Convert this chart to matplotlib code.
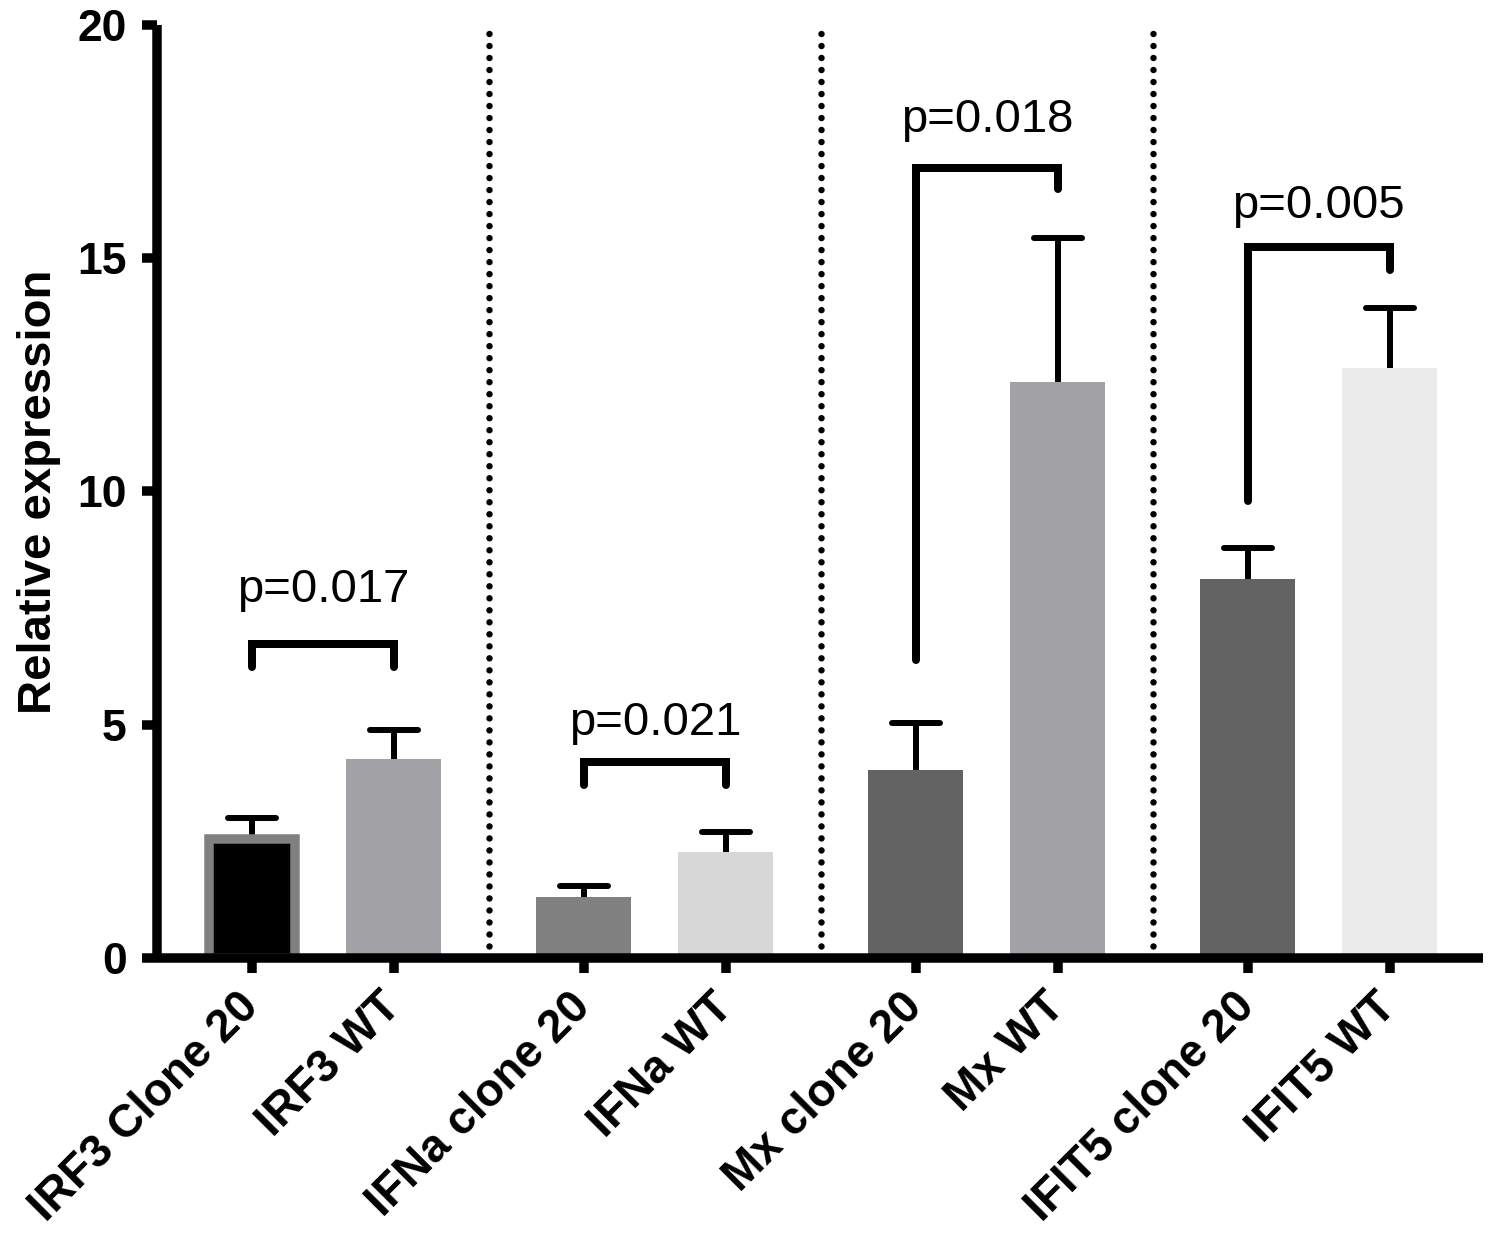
import matplotlib
matplotlib.use("Agg")
import matplotlib.pyplot as plt
from matplotlib.markers import MarkerStyle
import numpy as np

plt.rcParams['font.family'] = ['Liberation Sans', 'DejaVu Sans']

# ---- data ----
categories = ["IRF3 Clone 20", "IRF3 WT", "IFNa clone 20", "IFNa WT",
              "Mx clone 20", "Mx WT", "IFIT5 clone 20", "IFIT5 WT"]
means = [2.55, 4.25, 1.29, 2.27, 4.03, 12.34, 8.13, 12.64]
sem_upper = [0.45, 0.63, 0.24, 0.43, 1.01, 3.11, 0.65, 1.29]
bar_colors = ["#000000", "#a2a2a6", "#808080", "#d7d7d7",
              "#636363", "#a2a2a6", "#636363", "#ebebeb"]
p_labels = ["p=0.017", "p=0.021", "p=0.018", "p=0.005"]
bracket_y = [6.73, 4.20, 16.95, 15.25]
bracket_left_end = [6.23, 3.71, 6.38, 9.80]
bracket_right_end = [6.23, 3.71, 16.49, 14.75]
p_text_y = [7.63, 4.77, 17.71, 15.87]
y_ticks = [0, 5, 10, 15, 20]

# ---- layout ----
group_gap = 2.338
x = np.array([(i // 2) * group_gap + (i % 2) for i in range(len(categories))])
bar_w = 0.67

fig = plt.figure(figsize=(14.92, 12.36), dpi=100)
ax = fig.add_axes([0.1052, 0.2253, 0.9939 - 0.1052, 0.7541])

px = 100 / 72.0  # px per pt
edge_lw = 9.5 / px
for i in range(len(categories)):
    if i == 0:
        ax.bar(x[i], means[i], width=bar_w - 9.5 / 142, color=bar_colors[i],
               edgecolor="#808080", linewidth=edge_lw, zorder=2)
    else:
        ax.bar(x[i], means[i], width=bar_w, color=bar_colors[i],
               edgecolor="none", zorder=2)

eb = ax.errorbar(x, means, yerr=[np.zeros(len(means)), sem_upper], fmt='none',
                 ecolor='black', elinewidth=6 / px, capsize=48 / 2 / px,
                 capthick=6 / px, zorder=1)
eb[1][0].set_visible(False)
for cap in eb[1]:
    cap.set_marker(MarkerStyle('_', capstyle='round'))

# dotted separators
for g in range(1, 4):
    xs = (x[2 * g - 1] + x[2 * g]) / 2
    ax.plot([xs, xs], [0, 20], color='black', lw=6.5 / px,
            ls=(0, (0.001, 12 / 6.5)), dash_capstyle='round', zorder=1,
            clip_on=False)

# brackets and p-values
for g in range(4):
    xl, xr = x[2 * g], x[2 * g + 1]
    ax.plot([xl, xl, xr, xr],
            [bracket_left_end[g], bracket_y[g], bracket_y[g], bracket_right_end[g]],
            color='black', lw=8 / px, solid_capstyle='round',
            solid_joinstyle='miter', zorder=3)
    ax.text((xl + xr) / 2, p_text_y[g], p_labels[g], ha='center',
            va='baseline', fontsize=34)

ax.set_xlim(-0.669, 8.67)
ax.set_ylim(0, 20)
ax.set_yticks(y_ticks)
ax.set_yticklabels([str(t) for t in y_ticks], fontsize=32, fontweight='bold')
ax.set_xticks(x)
ax.set_xticklabels(categories, rotation=45, ha='right', va='center',
                   rotation_mode='anchor', fontsize=33, fontweight='bold')
ax.set_ylabel("Relative expression", fontsize=34, fontweight='bold', labelpad=12)

for s in ['top', 'right']:
    ax.spines[s].set_visible(False)
for s in ['left', 'bottom']:
    ax.spines[s].set_linewidth(9.5 / px)
    ax.spines[s].set_capstyle('butt')
ax.tick_params(axis='both', direction='out', length=15 / px, width=9.5 / px)
ax.tick_params(axis='y', pad=11)
ax.tick_params(axis='x', pad=20)

fig.savefig("out.png", dpi=100)
